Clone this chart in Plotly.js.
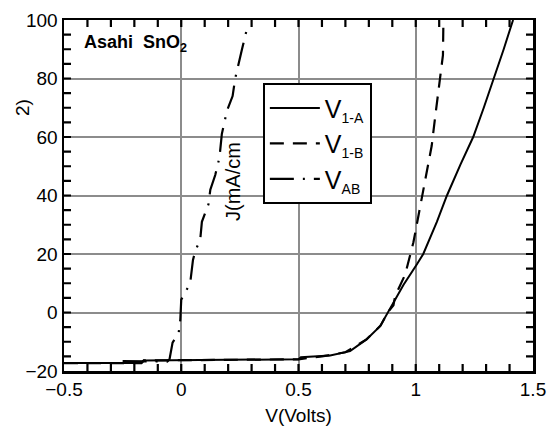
<!DOCTYPE html>
<html>
<head>
<meta charset="utf-8">
<script src="https://cdn.plot.ly/plotly-3.0.1.min.js"></script>
<style>html,body{margin:0;padding:0;background:#fff;}#chart{width:553px;height:435px;}</style>
</head>
<body>
<div id="chart"></div>
<script>
// V1-A (solid)
var v1aX = [-0.5, -0.17, -0.16, 0.2, 0.5, 0.51, 0.635, 0.72, 0.79, 0.848, 0.882, 0.948, 1.005, 1.032, 1.09, 1.133, 1.19, 1.245, 1.29, 1.334, 1.375, 1.415];
var v1aY = [-17.3, -17.3, -16.4, -16.3, -16.0, -15.3, -14.7, -13.2, -9.2, -4.7, 0.0, 9.5, 16.5, 20.0, 31.0, 40.0, 50.5, 60.0, 70.0, 80.0, 90.0, 100.0];
// V1-B (dashed)
var v1bX = [-0.5, -0.17, -0.16, 0.2, 0.5, 0.6, 0.7, 0.79, 0.85, 0.88, 0.905, 0.912, 0.955, 0.99, 1.019, 1.043, 1.068, 1.083, 1.10, 1.116, 1.118];
var v1bY = [-17.3, -17.3, -16.4, -16.3, -16.0, -15.0, -13.6, -9.2, -4.5, 0.0, 2.5, 5.6, 13.0, 24.0, 36.0, 46.0, 57.0, 67.0, 78.0, 88.0, 100.0];
// V_AB (dash-dot)
var vabX = [-0.25, -0.17, -0.06, -0.05, -0.037, -0.011, -0.004, 0.0, 0.017, 0.038, 0.05, 0.06, 0.081, 0.088, 0.116, 0.124, 0.145, 0.163, 0.173, 0.195, 0.219, 0.23, 0.259, 0.28];
var vabY = [-16.6, -16.6, -16.8, -16.0, -10.3, -7.0, -2.4, 4.4, 6.7, 10.0, 18.0, 21.0, 25.0, 31.0, 37.0, 42.0, 47.0, 53.0, 61.0, 69.0, 74.0, 80.0, 90.0, 97.0];

var seriesNames = ['V<sub><span style="font-size:14px">1-A</span></sub>',
                   'V<sub><span style="font-size:14px">1-B</span></sub>',
                   'V<sub><span style="font-size:14px">AB</span></sub>'];

// axis ranges and minor tick spacing
var xRange = [-0.5, 1.5], yRange = [-20, 100];
var xMinorStep = 0.1, yMinorStep = 5;

var FONT = 'Liberation Sans, Arial, sans-serif';

var traces = [
  {x: v1aX, y: v1aY, name: seriesNames[0], mode: 'lines', line: {color: '#000', width: 2, dash: 'solid'}},
  {x: v1bX, y: v1bY, name: seriesNames[1], mode: 'lines', line: {color: '#000', width: 2.2, dash: '14px,9px'}},
  {x: vabX, y: vabY, name: seriesNames[2], mode: 'lines', line: {color: '#000', width: 2.2, dash: '24px,9px,2px,9px'}}
];

// frame tick marks inside on all four sides, as one paper-referenced path (decoration)
var W = 553 - 64 - 20, H = 435 - 20 - 64, TL = 7;
var tx = TL / W, ty = TL / H;
var p = '';
var nx = Math.round((xRange[1] - xRange[0]) / xMinorStep);
for (var i = 1; i < nx; i++) {
  var fx = (i / nx).toFixed(5);
  p += 'M' + fx + ',0L' + fx + ',' + ty.toFixed(5) + 'M' + fx + ',1L' + fx + ',' + (1 - ty).toFixed(5);
}
var ny = Math.round((yRange[1] - yRange[0]) / yMinorStep);
for (var j = 1; j < ny; j++) {
  var fy = (j / ny).toFixed(5);
  p += 'M0,' + fy + 'L' + tx.toFixed(5) + ',' + fy + 'M1,' + fy + 'L' + (1 - tx).toFixed(5) + ',' + fy;
}

var axisCommon = {
  showline: true, linecolor: '#000000', linewidth: 2.5, mirror: true,
  ticks: '',
  showgrid: true, gridcolor: '#8c8c8c', gridwidth: 2,
  zeroline: false,
  tickfont: {family: FONT, size: 19, color: '#000'}
};

var layout = {
  width: 553, height: 435,
  margin: {l: 64, r: 20, t: 20, b: 64},
  font: {family: FONT, size: 19, color: '#000'},
  showlegend: true,
  legend: {
    x: 0.424, y: 0.82, xanchor: 'left', yanchor: 'top',
    bgcolor: '#fff', bordercolor: '#000', borderwidth: 2,
    font: {family: FONT, size: 25, color: '#000'},
    itemwidth: 50,
    tracegroupgap: 0
  },
  xaxis: Object.assign({}, axisCommon, {
    range: xRange, dtick: 0.5, tick0: -0.5,
    title: {text: 'V(Volts)', font: {family: FONT, size: 19}, standoff: 10}
  }),
  yaxis: Object.assign({}, axisCommon, {
    range: yRange, dtick: 20, tick0: -20
  }),
  shapes: [
    {type: 'path', xref: 'paper', yref: 'paper', path: p, layer: 'above', line: {color: '#000000', width: 2.2}}
  ],
  annotations: [
    {xref: 'paper', yref: 'paper', x: (82 - 64) / 469, y: 1 - (43 - 20) / 351, xanchor: 'left', yanchor: 'middle', showarrow: false,
     text: '<b>Asahi  SnO<sub>2</sub></b>', font: {family: FONT, size: 18, color: '#000'}},
    {xref: 'paper', yref: 'paper', x: (233 - 64) / 469, y: 1 - (182 - 20) / 351, xanchor: 'center', yanchor: 'middle', showarrow: false,
     textangle: -90, text: 'J(mA/cm', font: {family: FONT, size: 20, color: '#000'}},
    {xref: 'paper', yref: 'paper', x: (22 - 64) / 469, y: 1 - (108 - 20) / 351, xanchor: 'center', yanchor: 'middle', showarrow: false,
     textangle: -90, text: '2)', font: {family: FONT, size: 19, color: '#000'}}
  ]
};

Plotly.newPlot('chart', traces, layout, {staticPlot: true, displayModeBar: false});
</script>
</body>
</html>
